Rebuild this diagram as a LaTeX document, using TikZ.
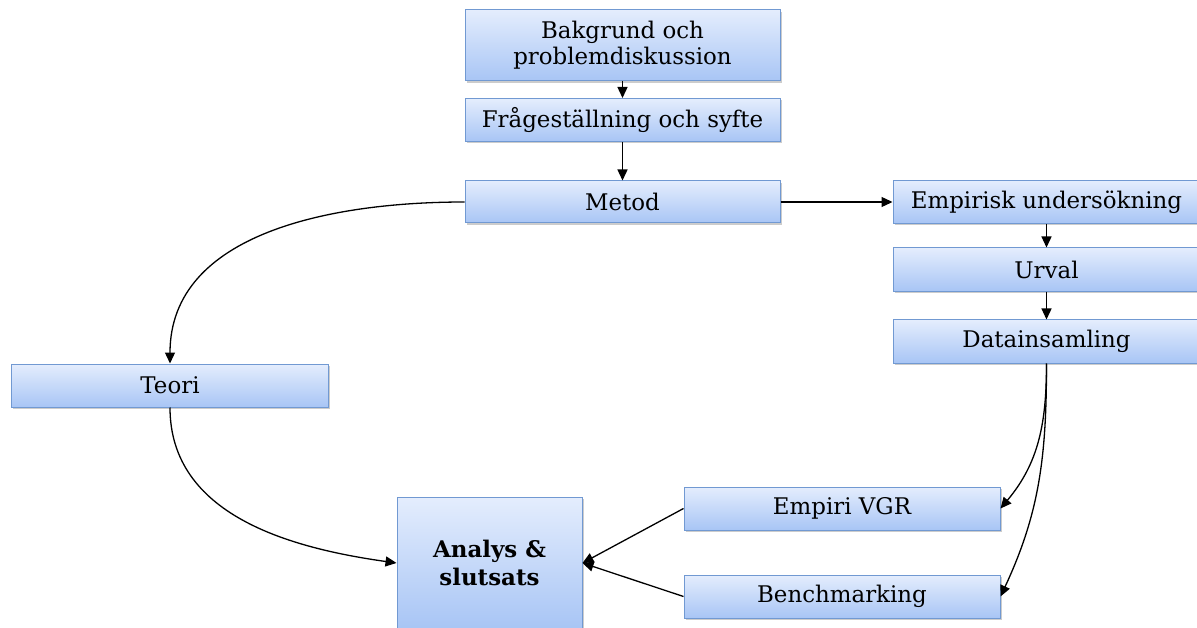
\documentclass[tikz,border=0pt]{standalone}
\usepackage{fontspec}
\setmainfont{DejaVu Serif}
\usetikzlibrary{arrows.meta, positioning, shadows}
\definecolor{BoxTop}{HTML}{E4EDFD}
\definecolor{BoxBottom}{HTML}{A8C5F5}
\definecolor{BoxLine}{HTML}{7199D2}
\tikzset{
  stepbox/.style={
    rectangle, draw=BoxLine, line width=1bp,
    top color=BoxTop, bottom color=BoxBottom,
    minimum width=#1, minimum height=43bp, inner sep=2bp,
    align=center, font=\fontsize{23}{26}\selectfont,
    drop shadow={shadow xshift=1.5bp, shadow yshift=-2bp, opacity=0.4}
  },
  arrow/.style={-{Triangle[length=11bp, width=10bp]}, line width=1.3bp, black},
}

\begin{document}
\begin{tikzpicture}[x=1bp, y=-1bp]
  \useasboundingbox (0,0) rectangle (1197,628);

  % -- main column -------------------------------------------------------
  \node[stepbox=315bp, minimum height=71bp] (bakgrund) at (622.5,45.5)
    {Bakgrund och\\problemdiskussion};
  \node[stepbox=315bp] (fraga) at (622.5,120) {Frågeställning och syfte};
  \node[stepbox=315bp, minimum height=42bp] (metod) at (622.5,202) {Metod};

  % -- empirical branch --------------------------------------------------
  \node[stepbox=307bp] (empiri) at (1046.5,202) {Empirisk undersökning};
  \node[stepbox=307bp] (urval) at (1046.5,269.5) {Urval};
  \node[stepbox=307bp] (data) at (1046.5,341.5) {Datainsamling};
  \node[stepbox=316bp] (vgr) at (842,508.5) {Empiri VGR};
  \node[stepbox=316bp] (bench) at (842,596.5) {Benchmarking};

  % -- theory + result ---------------------------------------------------
  \node[stepbox=316bp] (teori) at (170,385.5) {Teori};
  \node[stepbox=185bp, minimum height=132bp, font=\fontsize{23}{29}\selectfont\bfseries]
    (analys) at (489.5,563) {Analys \&\\slutsats};

  % -- arrows ------------------------------------------------------------
  \draw[arrow] (bakgrund.south) -- (fraga.north);
  \draw[arrow] (fraga.south)    -- (metod.north);
  \draw[arrow] (metod.east)     -- (empiri.west);
  \draw[arrow] (metod.west)     to[out=180, in=90] (teori.north);
  \draw[arrow] (empiri.south)   -- (urval.north);
  \draw[arrow] (urval.south)    -- (data.north);
  \draw[arrow] (data.south)     to[out=-90, in=50] (vgr.east);
  \draw[arrow] (data.south)     to[out=-90, in=65] (bench.east);
  \draw[arrow] (teori.south)    to[out=-90, in=172] (analys.west);
  \draw[arrow] (vgr.west)       -- (analys.east);
  \draw[arrow] (bench.west)     -- (analys.east);

\end{tikzpicture}
\end{document}
